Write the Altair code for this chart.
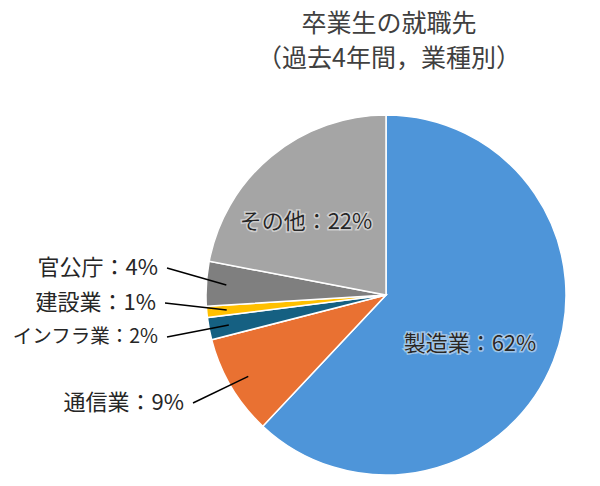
import altair as alt
import pandas as pd
import numpy as np

# ---- data ----
categories = ["製造業", "通信業", "インフラ業", "建設業", "官公庁", "その他"]
values = [62, 9, 2, 1, 4, 22]
colors = ["#4E95D9", "#E97132", "#156082", "#FFC000", "#7F7F7F", "#A5A5A5"]
title_lines = ["卒業生の就職先", "（過去4年間，業種別）"]

# ---- layout (view pixels) ----
W, H = 584, 470
CX, CY, R = 378, 287, 180
LINE_R = 160
inside_labels = {"製造業": (462, 336), "その他": (298, 214)}
outside_labels = {"官公庁": (150, 260), "建設業": (148, 295),
                  "インフラ業": (150, 329), "通信業": (176, 395)}
narrow_labels = ["インフラ業"]
LINE_GAP = 9
FONT = "Noto Sans CJK JP"
FS = 22
FS_NARROW = 19.5

df = pd.DataFrame({"category": categories, "value": values, "idx": range(len(categories))})
df["label"] = [f"{c}：{v}%" for c, v in zip(categories, values)]
total = sum(values)
cum = np.cumsum(values) - np.array(values) / 2
df["mid"] = cum / total * 2 * np.pi

xs = alt.Scale(domain=[0, W], nice=False, zero=False)
ys = alt.Scale(domain=[0, H], nice=False, zero=False, reverse=True)

pie = alt.Chart(df).mark_arc(outerRadius=R, stroke="white", strokeWidth=1.5).encode(
    theta=alt.Theta("value:Q", stack=True),
    color=alt.Color("category:N", scale=alt.Scale(domain=categories, range=colors), legend=None),
    order=alt.Order("idx:Q"),
    x=alt.value(CX), y=alt.value(CY),
)

ins = df[df.category.isin(inside_labels)].copy()
ins["lx"] = [inside_labels[c][0] for c in ins.category]
ins["ly"] = [inside_labels[c][1] for c in ins.category]

outs = df[df.category.isin(outside_labels)].copy()
outs["lx"] = [outside_labels[c][0] for c in outs.category]
outs["ly"] = [outside_labels[c][1] for c in outs.category]
outs["x1"] = CX + LINE_R * np.sin(outs["mid"])
outs["y1"] = CY - LINE_R * np.cos(outs["mid"])
outs["x2"] = outs["lx"] + LINE_GAP
outs["y2"] = outs["ly"]

outs_norm = outs[~outs.category.isin(narrow_labels)]
outs_narrow = outs[outs.category.isin(narrow_labels)]


def txt(data, align, size=FS, halo=False):
    kw = dict(align=align, baseline="middle", font=FONT, fontSize=size, color="#262626")
    if halo:
        kw.update(stroke="white", strokeWidth=3, strokeOpacity=0.45, color="white")
    return alt.Chart(data).mark_text(**kw).encode(
        x=alt.X("lx:Q", scale=xs, axis=None),
        y=alt.Y("ly:Q", scale=ys, axis=None),
        text="label:N",
    )


lines = alt.Chart(outs).mark_rule(color="#000000", strokeWidth=1.5).encode(
    x=alt.X("x1:Q", scale=xs, axis=None),
    y=alt.Y("y1:Q", scale=ys, axis=None),
    x2="x2:Q", y2="y2:Q",
)

tdf = pd.DataFrame({"t": title_lines, "tx": [381, 381], "ty": [16, 51]})
title = alt.Chart(tdf).mark_text(align="center", baseline="middle", font=FONT,
                                  fontSize=25, color="#404040").encode(
    x=alt.X("tx:Q", scale=xs, axis=None),
    y=alt.Y("ty:Q", scale=ys, axis=None),
    text="t:N",
)

chart = alt.layer(
    pie, lines,
    txt(ins, "center", halo=True), txt(ins, "center"),
    txt(outs_norm, "right"),
    txt(outs_narrow, "right", size=FS_NARROW),
    title,
).properties(width=W, height=H, padding=0, autosize="none", background="white"
).configure_view(stroke=None)

chart.save("out.html", embed_options={"renderer": "svg", "actions": False})
